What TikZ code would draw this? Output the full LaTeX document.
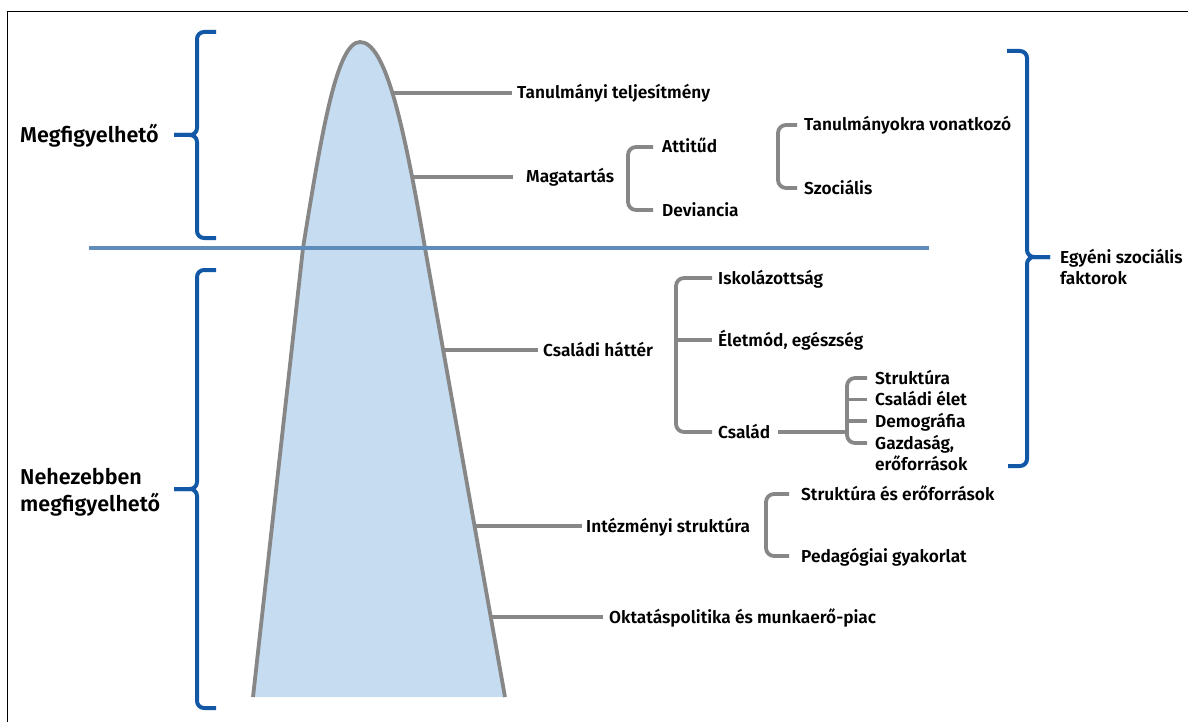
\documentclass[tikz,border=0pt]{standalone}
\usepackage{fontspec}
\setmainfont{Fira Sans}[UprightFont={* SemiBold},BoldFont={* Bold}]
\definecolor{gc}{RGB}{135,135,135}
\definecolor{bc}{RGB}{18,88,166}
\definecolor{lc}{RGB}{95,140,185}
\definecolor{fc}{RGB}{198,220,241}
\begin{document}
\begin{tikzpicture}[x=1pt,y=-1pt,
  lbl/.style={anchor=west,inner sep=0pt,text height=12pt,text depth=0pt,font=\fontsize{17.3}{21.5}\selectfont},
  mlbl/.style={anchor=base west,inner sep=0pt,font=\fontsize{17.3}{21.5}\selectfont},
  big/.style={anchor=base west,inner sep=0pt,font=\fontsize{21.5}{26.5}\selectfont},
  gl/.style={draw=gc,line width=3.8pt},
  gb/.style={draw=gc,line width=3.8pt,rounded corners=8pt},
  bb/.style={draw=bc,line width=4pt,rounded corners=7pt}]
\useasboundingbox (0,0) rectangle (1188,722);
% frame
\draw[black,line width=1pt] (7,722) -- (7,12) -- (1188,12);
% iceberg
\fill[fc] (253,697) -- (303,248) .. controls (322,130) and (337,42) .. (360,42) .. controls (385,42) and (403,120) .. (425,248) -- (505,697) -- cycle;
\draw[gc,line width=3.8pt,line join=round] (253,697) -- (303,248) .. controls (322,130) and (337,42) .. (360,42) .. controls (385,42) and (403,120) .. (425,248) -- (505,697);
% water line
\draw[lc,line width=4pt] (89,248) -- (929,248);
% left labels and braces
\node[big] (megf) at (20,142.5) {Megfigyelhető};
\node[big] (nehez) at (20,484.5) {\begin{tabular}[t]{@{}l@{}}Nehezebben\\megfigyelhető\end{tabular}};
\draw[bb] (216,32) -- (197,32) -- (197,135) -- (174,135);
\draw[bb] (174,135) -- (197,135) -- (197,238) -- (216,238);
\draw[bb] (216,270) -- (197,270) -- (197,489) -- (174,489);
\draw[bb] (174,489) -- (197,489) -- (197,708) -- (216,708);
% right brace
\node[mlbl] (egy) at (1060,263) {\begin{tabular}[t]{@{}l@{}}Egyéni szociális\\faktorok\end{tabular}};
\draw[bb] (1007,51) -- (1027,51) -- (1027,257) -- (1050,257);
\draw[bb] (1050,257) -- (1027,257) -- (1027,466) -- (1008,466);
% edge points
\coordinate (e1) at (392,93);
\coordinate (e2) at (412,177);
\coordinate (e3) at (443.5,350);
\coordinate (e4) at (474.5,526);
\coordinate (e5) at (491,617);
% labels
\node[lbl] (tt) at (517,93) {Tanulmányi teljesítmény};
\node[lbl] (mg) at (526,177) {Magatartás};
\node[lbl] (att) at (662,147) {Attitűd};
\node[lbl] (dev) at (662,210) {Deviancia};
\node[lbl] (tv) at (804,125) {Tanulmányokra vonatkozó};
\node[lbl] (sz) at (804,188) {Szociális};
\node[lbl] (ch) at (543,350) {Családi háttér};
\node[lbl] (isk) at (718,278) {Iskolázottság};
\node[lbl] (elet) at (718,340) {Életmód, egészség};
\node[lbl] (csal) at (718,432) {Család};
\node[lbl] (str) at (875,378) {Struktúra};
\node[lbl] (cse) at (875,399.5) {Családi élet};
\node[lbl] (dem) at (875,421) {Demográfia};
\node[mlbl] (gaz) at (875,449) {\begin{tabular}[t]{@{}l@{}}Gazdaság,\\erőforrások\end{tabular}};
\node[lbl] (int) at (586,526) {Intézményi struktúra};
\node[lbl] (sef) at (801,494) {Struktúra és erőforrások};
\node[lbl] (ped) at (801,556) {Pedagógiai gyakorlat};
\node[lbl] (okt) at (609,617) {Oktatáspolitika és munkaerő-piac};
% connectors from iceberg
\draw[gl] (e1) -- ([xshift=-5pt]tt.west);
\draw[gl] (e2) -- ([xshift=-13pt]mg.west);
\draw[gl] (e3) -- ([xshift=-5pt]ch.west);
\draw[gl] (e4) -- ([xshift=-4pt]int.west);
\draw[gl] (e5) -- ([xshift=-6pt]okt.west);
% gray brackets
\draw[gb] ([xshift=-9pt]att.west) -- (628,147) -- (628,210) -- ([xshift=-9pt]dev.west);
\draw[gb] ([xshift=-7pt]tv.west) -- (778,125) -- (778,188) -- ([xshift=-7pt]sz.west);
\draw[gb] ([xshift=-6pt]isk.west) -- (676,278) -- (676,432) -- ([xshift=-6pt]csal.west);
\draw[gl] (676,340) -- ([xshift=-6pt]elet.west);
\draw[gb] ([xshift=-12pt]sef.west) -- (766,494) -- (766,556) -- ([xshift=-12pt]ped.west);
% Család sub-bracket
\draw[gl] ([xshift=8pt]csal.east) -- (847,432);
\draw[gb] ([xshift=-8pt]str.west) -- (847,378) -- (847,443) -- (867,443);
\draw[gl] (847,399.5) -- ([xshift=-8pt]cse.west);
\draw[gl] (847,421) -- ([xshift=-8pt]dem.west);
\end{tikzpicture}
\end{document}
